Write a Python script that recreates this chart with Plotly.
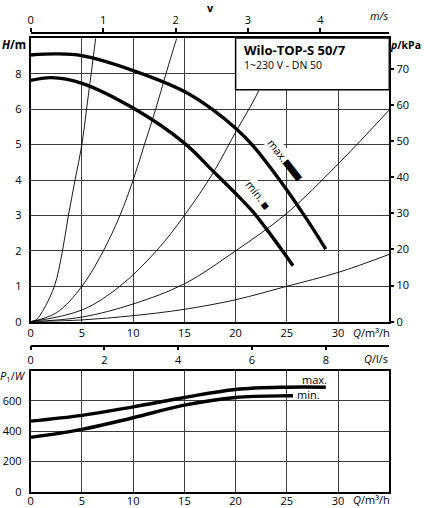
import plotly.graph_objects as go

# pump curves H(Q), m³/h -> m
q_hmax = [0, 2.5, 5, 10, 15, 17.8, 20, 21.6, 24.3, 26.7, 28.8]
h_max = [7.53, 7.56, 7.51, 7.09, 6.5, 5.98, 5.46, 5.0, 4.0, 3.0, 2.05]
q_hmin = [0, 2, 5, 10, 15, 17.8, 20, 21.7, 23, 24.5, 25.6]
h_min = [6.81, 6.89, 6.73, 6.03, 5.04, 4.25, 3.62, 3.1, 2.62, 2.03, 1.58]

# system curves (thin lines)
sys_q = [
    [0, 0.5, 1.0, 2.31, 3.1, 3.68, 4.33, 5.0, 5.45, 5.9, 6.34],
    [0, 2.5, 5.0, 7.09, 8.71, 10.0, 11.1, 12.2, 13.2, 14.25],
    [0, 5, 8.7, 12.27, 15, 17.8, 20, 22.05, 24.6],
    [0, 5, 10, 15, 20, 25, 30, 35],
    [0, 5, 10, 15, 20, 25, 30, 35],
]
sys_h = [
    [0, 0.05, 0.22, 1, 2, 3, 4, 5, 6, 7, 8],
    [0, 0.25, 1, 2, 3, 4, 5, 6, 7, 8],
    [0, 0.33, 1, 2, 3, 4.2, 5.35, 6.4, 8],
    [0, 0.13, 0.5, 1.07, 2.0, 3.06, 4.45, 5.98],
    [0, 0.05, 0.17, 0.35, 0.62, 1.0, 1.39, 1.9],
]

# power input P1(Q), W
q_pmax = [0, 5, 10, 15, 20, 25, 28.8]
p_max = [467, 505, 561, 623, 676, 691, 691]
q_pmin = [0, 5, 10, 15, 20, 25, 25.6]
p_min = [359, 412, 489, 572, 623, 634, 634]

# axis ticks
q_ticks = [0, 5, 10, 15, 20, 25, 30]
h_ticks = [0, 1, 2, 3, 4, 5, 6, 7]
h_ticktext = ["0", "1", "2", "3", "4", "5", "6", "8"]
kpa_ticks = [0, 10, 20, 30, 40, 50, 60, 70]
v_ticks = [0, 1, 2, 3, 4]
ls_ticks = [0, 2, 4, 6, 8]
p_ticks = [0, 200, 400, 600]

Q_MAX = 35.0
H_MAX = 8.0
DN = 0.05  # m
V_MAX = Q_MAX / 3600 / (3.14159265 * DN ** 2 / 4)

FONT = "Open Sans, Noto Sans, sans-serif"
W, H = 424, 508
GRID = "#3c3c3c"


def px(x):
    return x / W


def py(y):
    return 1 - y / H


fig = go.Figure()

for qs, hs in zip(sys_q, sys_h):
    fig.add_trace(go.Scatter(x=qs, y=hs, mode="lines", line=dict(color="black", width=0.9, shape="spline"),
                             showlegend=False, hoverinfo="skip"))

for qs, hs in ((q_hmax, h_max), (q_hmin, h_min)):
    fig.add_trace(go.Scatter(x=qs, y=hs, mode="lines", line=dict(color="black", width=3.4, shape="spline"),
                             showlegend=False))

for qs, ps in ((q_pmax, p_max), (q_pmin, p_min)):
    fig.add_trace(go.Scatter(x=qs, y=ps, mode="lines", line=dict(color="black", width=3.4, shape="spline"),
                             xaxis="x2", yaxis="y2", showlegend=False))

# dummy traces so the extra axes get drawn
fig.add_trace(go.Scatter(x=[0], y=[0], mode="none", xaxis="x3", yaxis="y", showlegend=False, hoverinfo="skip"))
fig.add_trace(go.Scatter(x=[0], y=[0], mode="none", xaxis="x", yaxis="y3", showlegend=False, hoverinfo="skip"))
fig.add_trace(go.Scatter(x=[0], y=[0], mode="none", xaxis="x4", yaxis="y2", showlegend=False, hoverinfo="skip"))

dom_x = [px(30.7), px(389.3)]
axis_common = dict(showline=True, linecolor="black", linewidth=2, mirror=True, showgrid=True,
                   gridcolor=GRID, gridwidth=1.2, zeroline=False, ticks="", automargin=False,
                   tickfont=dict(family=FONT, size=11, color="black"), fixedrange=True)

fig.update_layout(
    width=W, height=H,
    margin=dict(l=0, r=0, t=0, b=0),
    paper_bgcolor="white", plot_bgcolor="white",
    font=dict(family=FONT, size=11, color="black"),
    xaxis=dict(domain=dom_x, range=[0, Q_MAX], anchor="y", tickvals=q_ticks, **axis_common),
    yaxis=dict(domain=[py(321.7), py(38.3)], range=[0, H_MAX], anchor="x", tickvals=h_ticks,
               ticktext=h_ticktext, ticklabelstandoff=5, **axis_common),
    yaxis3=dict(overlaying="y", side="right", anchor="x", range=[0, H_MAX * 9.80665], tickvals=kpa_ticks,
                showgrid=False, zeroline=False, showline=False, ticks="outside", ticklen=4, tickwidth=1.5,
                tickcolor="black", automargin=False, tickfont=dict(family=FONT, size=11, color="black")),
    xaxis3=dict(overlaying="x", side="top", anchor="free", position=py(32.7), range=[0, V_MAX],
                tickvals=v_ticks, showgrid=False, zeroline=False, showline=True, linecolor="black",
                linewidth=1.5, ticks="outside", ticklen=4, tickwidth=1.5, tickcolor="black", automargin=False,
                tickfont=dict(family=FONT, size=11, color="black")),
    xaxis2=dict(domain=dom_x, range=[0, Q_MAX], anchor="y2", tickvals=q_ticks, ticklabelstandoff=-2,
                **axis_common),
    yaxis2=dict(domain=[py(491.7), py(370.7)], range=[0, 800], anchor="x2", tickvals=p_ticks,
                ticklabelstandoff=5, **axis_common),
    xaxis4=dict(overlaying="x2", side="bottom", anchor="free", position=py(345.7), range=[0, Q_MAX / 3.6],
                tickvals=ls_ticks, showgrid=False, zeroline=False, showline=True, linecolor="black",
                linewidth=1.5, ticks="outside", ticklen=4, tickwidth=1.5, tickcolor="black", automargin=False,
                tickfont=dict(family=FONT, size=11, color="black")),
)

# type box
fig.add_shape(type="rect", xref="x", yref="y", x0=20, x1=Q_MAX, y0=6.55, y1=H_MAX,
              fillcolor="white", line=dict(color="black", width=1.5), layer="above")


def note(text, x, y, size=11, xanchor="center"):
    fig.add_annotation(text=text, x=px(x), y=py(y), xref="paper", yref="paper", showarrow=False,
                       xanchor=xanchor, yanchor="middle",
                       font=dict(family=FONT, size=size, color="black"))


note("<b>Wilo-TOP-S 50/7</b>", 242, 50, size=13, xanchor="left")
note("1~230 V - DN 50", 242, 65, size=10.5, xanchor="left")

note("<b><i>H</i>/m</b>", 14, 45, size=11.5)
note("<b><i>p</i>/kPa</b>", 423, 45, size=10.5, xanchor="right")
note("<b>v</b>", 210, 8, size=11)
note("<i>m/s</i>", 390, 16, size=11, xanchor="right")
note("<i>Q</i>/m³/h", 392, 332, size=11, xanchor="right")
note("<i>Q</i>/l/s", 390, 358, size=11, xanchor="right")
note("<i>P</i><sub>1</sub>/<i>W</i>", 13, 376, size=11)
note("<i>Q</i>/m³/h", 392, 499, size=11, xanchor="right")


def curve_tag(text, x, y, size, xshift, yshift, bg=None):
    fig.add_annotation(text=text, x=x, y=y, xref="x", yref="y", showarrow=False, textangle=52,
                       xshift=xshift, yshift=yshift, font=dict(family=FONT, size=size, color="black"),
                       bgcolor=bg, borderpad=0)


# curve labels and markers (H(Q) chart)
curve_tag("max.", 23.45, 4.68, 11, 7, 5, bg="white")
curve_tag("min.", 21.21, 3.55, 11, 7, 5, bg="white")
curve_tag("▬", 25.06, 4.19, 23, 9, 6)
curve_tag("■", 22.45, 3.2, 12, 5, 3)

fig.add_annotation(text="max.", x=27.7, y=742, xref="x2", yref="y2", showarrow=False,
                   font=dict(family=FONT, size=11, color="black"))
fig.add_annotation(text="min.", x=27.07, y=643, xref="x2", yref="y2", showarrow=False,
                   font=dict(family=FONT, size=11, color="black"))

fig.write_html("out.html", post_script="document.body.style.margin='0';",
               config={"displayModeBar": False})
